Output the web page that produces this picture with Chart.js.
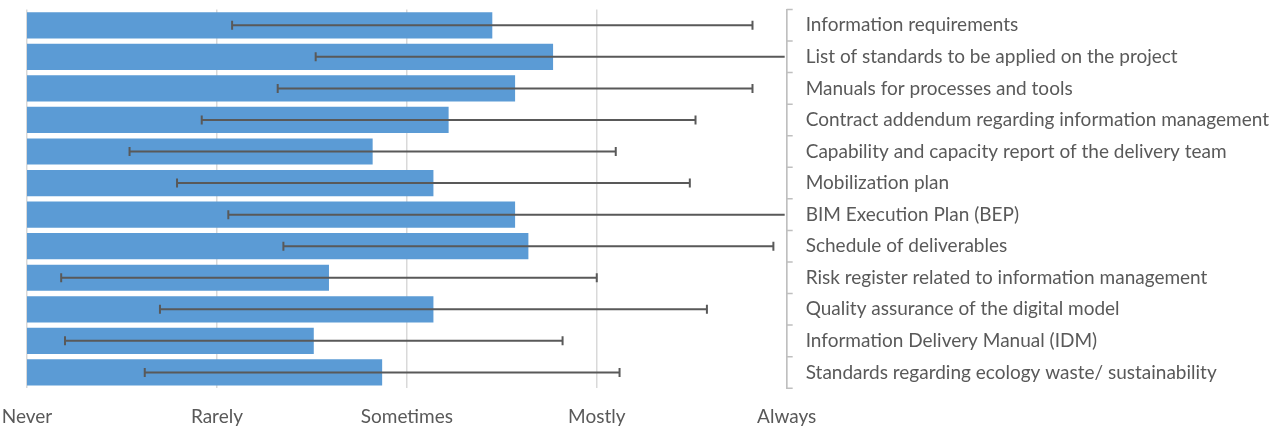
<!DOCTYPE html>
<html>
<head>
<meta charset="utf-8">
<title>Information management documents</title>
<script src="https://cdn.jsdelivr.net/npm/chart.js@4.4.1/dist/chart.umd.min.js"></script>
<style>
    html, body { margin: 0; padding: 0; background: #ffffff; }
    .wrap { position: relative; width: 1287px; height: 430px; }
</style>
</head>
<body>
<div class="wrap">
    <canvas id="grafico" width="1287" height="430"></canvas>
</div>
<script>
// Datos del gráfico (escala 1 = Never ... 5 = Always)
const categorias = [
    "Information requirements",
    "List of standards to be applied on the project",
    "Manuals for processes and tools",
    "Contract addendum regarding information management",
    "Capability and capacity report of the delivery team",
    "Mobilization plan",
    "BIM Execution Plan (BEP)",
    "Schedule of deliverables",
    "Risk register related to information management",
    "Quality assurance of the digital model",
    "Information Delivery Manual (IDM)",
    "Standards regarding ecology waste/ sustainability"
];
const medias = [3.45, 3.77, 3.57, 3.22, 2.82, 3.14, 3.57, 3.64, 2.59, 3.14, 2.51, 2.87];
const desviaciones = [1.37, 1.25, 1.25, 1.30, 1.28, 1.35, 1.51, 1.29, 1.41, 1.44, 1.31, 1.25];
const etiquetasEscala = ["Never", "Rarely", "Sometimes", "Mostly", "Always"];

const colorTexto = "#595959";
const fuente = "Lato, 'Open Sans', sans-serif";

// Plugin: barras de error (media +- desviación) y marcas cortas del eje derecho
const barrasError = {
    id: "barrasError",
    afterDatasetsDraw(chart) {
        const ctx = chart.ctx;
        const area = chart.chartArea;
        const x = chart.scales.x;
        const meta = chart.getDatasetMeta(0);
        ctx.save();
        ctx.beginPath();
        ctx.rect(area.left, area.top, area.right - area.left - 2, area.bottom - area.top);
        ctx.clip();
        ctx.strokeStyle = "#595959";
        ctx.lineWidth = 2;
        meta.data.forEach((bar, i) => {
            const y = bar.y;
            const x1 = x.getPixelForValue(medias[i] - desviaciones[i]);
            const x2 = x.getPixelForValue(medias[i] + desviaciones[i]);
            ctx.beginPath();
            ctx.moveTo(x1, y);
            ctx.lineTo(x2, y);
            ctx.moveTo(x1, y - 4.5);
            ctx.lineTo(x1, y + 4.5);
            ctx.moveTo(x2, y - 4.5);
            ctx.lineTo(x2, y + 4.5);
            ctx.stroke();
        });
        ctx.restore();
    },
    afterDraw(chart) {
        // marcas de 6px entre categorías en el eje de la derecha
        const ctx = chart.ctx;
        const y = chart.scales.y;
        const paso = (y.bottom - y.top) / categorias.length;
        ctx.save();
        ctx.strokeStyle = "#bfbfbf";
        ctx.lineWidth = 1.5;
        ctx.beginPath();
        for (let k = 0; k <= categorias.length; k++) {
            const py = y.top + k * paso;
            ctx.moveTo(y.left, py);
            ctx.lineTo(y.left + 6, py);
        }
        ctx.stroke();
        ctx.restore();
    }
};

const ctx = document.getElementById("grafico").getContext("2d");
const grafico = new Chart(ctx, {
    type: "bar",
    data: {
        labels: categorias,
        datasets: [{
            data: medias,
            backgroundColor: "#5b9bd5",
            borderWidth: 0,
            barPercentage: 0.83,
            categoryPercentage: 1
        }]
    },
    options: {
        indexAxis: "y",
        responsive: false,
        animation: false,
        layout: { padding: { top: 9, left: 27, right: 18, bottom: 2 } },
        plugins: {
            legend: { display: false },
            tooltip: { enabled: false }
        },
        scales: {
            x: {
                min: 1,
                max: 5,
                border: { display: false },
                grid: {
                    color: "#d9d9d9",
                    lineWidth: 1.5,
                    drawTicks: true,
                    tickLength: 17,
                    tickColor: "rgba(0,0,0,0)"
                },
                ticks: {
                    stepSize: 1,
                    padding: 0,
                    color: colorTexto,
                    font: { family: fuente, size: 19 },
                    maxRotation: 0,
                    callback: (v) => etiquetasEscala[v - 1]
                }
            },
            y: {
                position: "right",
                border: { display: true, color: "#bfbfbf", width: 1.5 },
                grid: {
                    drawOnChartArea: false,
                    drawTicks: true,
                    tickLength: 19,
                    tickColor: "rgba(0,0,0,0)"
                },
                ticks: {
                    autoSkip: false,
                    padding: 0,
                    color: colorTexto,
                    font: { family: fuente, size: 19, lineHeight: 1 }
                }
            }
        }
    },
    plugins: [barrasError]
});
</script>
</body>
</html>
